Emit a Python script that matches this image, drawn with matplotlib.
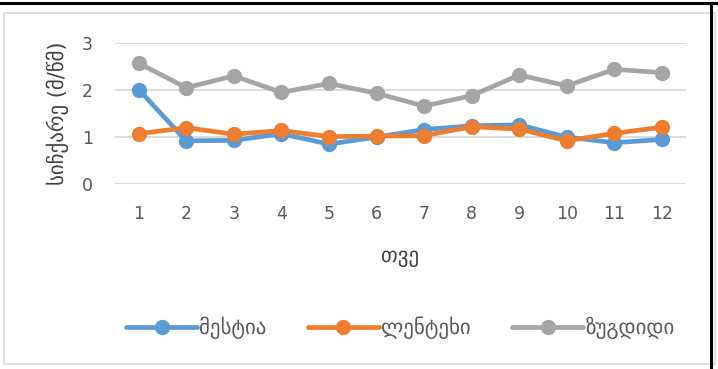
import matplotlib
matplotlib.use("Agg")
import matplotlib.pyplot as plt
from matplotlib.lines import Line2D
from matplotlib.patches import Rectangle

months = [1, 2, 3, 4, 5, 6, 7, 8, 9, 10, 11, 12]

# სიჩქარე (მ/წმ) თვეების მიხედვით
mestia = [2.01, 0.92, 0.93, 1.07, 0.85, 1.00, 1.16, 1.24, 1.26, 1.00, 0.88, 0.95]
lentekhi = [1.07, 1.20, 1.06, 1.14, 1.01, 1.02, 1.03, 1.22, 1.17, 0.92, 1.08, 1.21]
zugdidi = [2.57, 2.05, 2.30, 1.95, 2.14, 1.93, 1.66, 1.88, 2.32, 2.09, 2.44, 2.37]

names = ["მესტია", "ლენტეხი", "ზუგდიდი"]
colors = ["#5B9BD5", "#ED7D31", "#A5A5A5"]

plt.rcParams['font.family'] = ['DejaVu Sans']

fig = plt.figure(figsize=(7.18, 3.69), dpi=100)
ax = fig.add_axes([0.160, 0.501, 0.795, 0.3825])

for y, name, c in zip([mestia, lentekhi, zugdidi], names, colors):
    ax.plot(months, y, color=c, lw=3.4, marker='o', markersize=10,
            label=name, solid_capstyle='round')

ax.set_xlim(0.5, 12.5)
ax.set_ylim(0, 3)
ax.set_yticks([0, 1, 2, 3])
ax.set_xticks(months)
ax.grid(axis='y', color='#D9D9D9', lw=1.3)
ax.set_axisbelow(True)
for s in ax.spines.values():
    s.set_visible(False)
ax.tick_params(length=0, labelsize=12.5, labelcolor='#595959')
ax.tick_params(axis='y', pad=16)
ax.tick_params(axis='x', pad=15)

# Подписи осей
ax.set_ylabel("სიჩქარე (მ/წმ)", fontsize=15, color='#404040', labelpad=9)
ax.set_xlabel("თვე", fontsize=15, color='#404040', labelpad=17)

ax.legend(loc='center', bbox_to_anchor=(0.5, -1.02), ncol=3, frameon=False,
          fontsize=15, labelcolor='#595959', handlelength=3.4, columnspacing=2.0,
          handletextpad=0.1)

# рамки
fig.add_artist(Rectangle((4 / 718, 1 - 364 / 369), 711 / 718, 351 / 369,
                         transform=fig.transFigure, fill=False,
                         edgecolor='#D9D9D9', lw=1.2))
fig.add_artist(Line2D([0, 1], [1 - 3 / 369, 1 - 3 / 369], color='black', lw=2.2))
fig.add_artist(Line2D([711 / 718, 711 / 718], [0, 1 - 3 / 369], color='black', lw=2.2))

fig.savefig("out.png", dpi=100)
